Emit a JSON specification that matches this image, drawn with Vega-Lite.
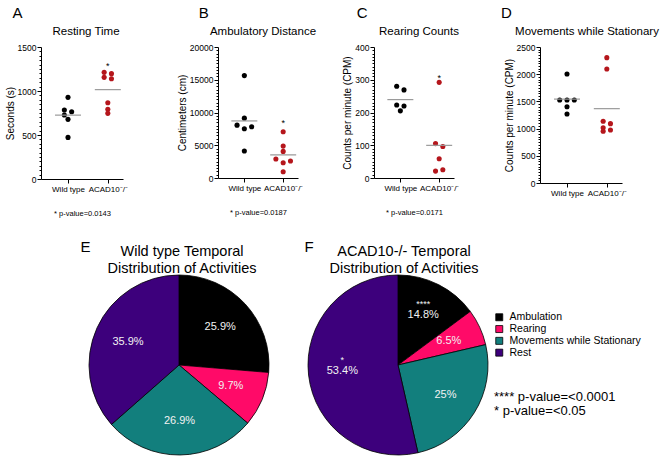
{
  "$schema": "https://vega.github.io/schema/vega-lite/v6.json",
  "config": {
    "font": "Liberation Sans",
    "view": {"stroke": null},
    "axis": {"grid": false, "domainColor": "#000", "tickColor": "#000", "labelColor": "#000", "titleColor": "#000", "titleFontWeight": "normal", "domainWidth": 1, "tickWidth": 1},
    "title": {"fontWeight": "normal", "color": "#000", "fontSize": 11.5, "offset": 6}
  },
  "datasets": {
    "sc": [
      {"p":"A","g":"Wild type","lane":"C","v":928},
      {"p":"A","g":"Wild type","lane":"L","v":784},
      {"p":"A","g":"Wild type","lane":"R","v":765},
      {"p":"A","g":"Wild type","lane":"L","v":727},
      {"p":"A","g":"Wild type","lane":"C","v":678},
      {"p":"A","g":"Wild type","lane":"C","v":473},
      {"p":"A","g":"ACAD10⁻/⁻","lane":"L","v":1212},
      {"p":"A","g":"ACAD10⁻/⁻","lane":"R","v":1197},
      {"p":"A","g":"ACAD10⁻/⁻","lane":"L","v":1155},
      {"p":"A","g":"ACAD10⁻/⁻","lane":"R","v":1140},
      {"p":"A","g":"ACAD10⁻/⁻","lane":"C","v":867},
      {"p":"A","g":"ACAD10⁻/⁻","lane":"C","v":792},
      {"p":"A","g":"ACAD10⁻/⁻","lane":"C","v":746},
      {"p":"B","g":"Wild type","lane":"C","v":15635},
      {"p":"B","g":"Wild type","lane":"C","v":9137},
      {"p":"B","g":"Wild type","lane":"L2","v":8071},
      {"p":"B","g":"Wild type","lane":"R2","v":7817},
      {"p":"B","g":"Wild type","lane":"C","v":7513},
      {"p":"B","g":"Wild type","lane":"C","v":4112},
      {"p":"B","g":"ACAD10⁻/⁻","lane":"C","v":7056},
      {"p":"B","g":"ACAD10⁻/⁻","lane":"C","v":4873},
      {"p":"B","g":"ACAD10⁻/⁻","lane":"C","v":4061},
      {"p":"B","g":"ACAD10⁻/⁻","lane":"L2","v":2893},
      {"p":"B","g":"ACAD10⁻/⁻","lane":"R2","v":2589},
      {"p":"B","g":"ACAD10⁻/⁻","lane":"C","v":2335},
      {"p":"B","g":"ACAD10⁻/⁻","lane":"C","v":964},
      {"p":"C","g":"Wild type","lane":"L","v":280},
      {"p":"C","g":"Wild type","lane":"R","v":269},
      {"p":"C","g":"Wild type","lane":"L","v":223},
      {"p":"C","g":"Wild type","lane":"R","v":220},
      {"p":"C","g":"Wild type","lane":"C","v":205},
      {"p":"C","g":"ACAD10⁻/⁻","lane":"C","v":292},
      {"p":"C","g":"ACAD10⁻/⁻","lane":"L","v":105},
      {"p":"C","g":"ACAD10⁻/⁻","lane":"R","v":96},
      {"p":"C","g":"ACAD10⁻/⁻","lane":"C","v":59},
      {"p":"C","g":"ACAD10⁻/⁻","lane":"L","v":21},
      {"p":"C","g":"ACAD10⁻/⁻","lane":"R","v":25},
      {"p":"D","g":"Wild type","lane":"C","v":2004},
      {"p":"D","g":"Wild type","lane":"L2","v":1526},
      {"p":"D","g":"Wild type","lane":"C","v":1526},
      {"p":"D","g":"Wild type","lane":"R2","v":1526},
      {"p":"D","g":"Wild type","lane":"C","v":1403},
      {"p":"D","g":"Wild type","lane":"C","v":1268},
      {"p":"D","g":"ACAD10⁻/⁻","lane":"C","v":2304},
      {"p":"D","g":"ACAD10⁻/⁻","lane":"C","v":2096},
      {"p":"D","g":"ACAD10⁻/⁻","lane":"L","v":1134},
      {"p":"D","g":"ACAD10⁻/⁻","lane":"R","v":1091},
      {"p":"D","g":"ACAD10⁻/⁻","lane":"L","v":1017},
      {"p":"D","g":"ACAD10⁻/⁻","lane":"L","v":950},
      {"p":"D","g":"ACAD10⁻/⁻","lane":"R","v":974}
    ],
    "st": [
      {"p":"A","g":"ACAD10⁻/⁻","v":1311},
      {"p":"B","g":"ACAD10⁻/⁻","v":8832},
      {"p":"C","g":"ACAD10⁻/⁻","v":313}
    ],
    "pie": [
      {"geno":"WT","act":"Ambulation","k":1,"pct":25.9,"lbl":"25.9%","star":""},
      {"geno":"WT","act":"Rearing","k":2,"pct":9.7,"lbl":"9.7%","star":""},
      {"geno":"WT","act":"Movements while Stationary","k":3,"pct":26.9,"lbl":"26.9%","star":""},
      {"geno":"WT","act":"Rest","k":4,"pct":35.9,"lbl":"35.9%","star":""},
      {"geno":"KO","act":"Ambulation","k":1,"pct":14.8,"lbl":"14.8%","star":"****"},
      {"geno":"KO","act":"Rearing","k":2,"pct":6.5,"lbl":"6.5%","star":""},
      {"geno":"KO","act":"Movements while Stationary","k":3,"pct":25,"lbl":"25%","star":""},
      {"geno":"KO","act":"Rest","k":4,"pct":53.4,"lbl":"53.4%","star":"*"}
    ]
  },
  "resolve": {"scale": {"color": "independent", "theta": "independent"}, "legend": {"color": "independent"}},
  "spacing": 22,
  "vconcat": [
    {
      "spacing": 49,
      "hconcat": [
        {
          "title": {"text": "A", "anchor": "start", "frame": "bounds", "fontSize": 15, "dx": 7.5, "offset": 5},
          "vconcat": [
            {
              "width": 82, "height": 132,
              "title": {"text": "Resting Time", "dx": 4},
              "data": {"name": "sc"},
              "transform": [{"filter": "datum.p === 'A'"}],
              "encoding": {
                "x": {"field": "g", "type": "nominal", "sort": ["Wild type", "ACAD10⁻/⁻"], "scale": {"type": "point", "domain": ["Wild type", "ACAD10⁻/⁻"], "padding": 0.53, "align": 0.64}, "axis": {"title": "* p-value=0.0143", "labelAngle": 0, "labelFontSize": 8, "tickSize": 4, "labelPadding": 2, "titleFontSize": 7.5, "titlePadding": 16}},
                "y": {"field": "v", "type": "quantitative", "scale": {"domain": [0, 1500], "nice": false}, "axis": {"title": "Seconds (s)", "format": "d", "values": [0,50,100,150,200,250,300,350,400,450,500,550,600,650,700,750,800,850,900,950,1000,1050,1100,1150,1200,1250,1300,1350,1400,1450,1500], "labelExpr": "datum.value % 500 === 0 ? datum.label : ''", "tickSize": {"condition": {"test": "datum.value % 500 === 0", "value": 4}, "value": 2}, "labelFontSize": 8.5, "titleFontSize": 10, "titlePadding": 2, "labelPadding": 1}}
              },
              "layer": [
                {"mark": {"type": "point", "filled": true, "size": 26, "opacity": 1},
                 "encoding": {
                   "xOffset": {"field": "lane", "type": "nominal", "scale": {"type": "point", "domain": ["L2","L","C","R","R2"], "range": [-7.3, 7.3], "padding": 0}},
                   "color": {"condition": {"test": "datum.g === 'Wild type'", "value": "#000000"}, "value": "#b5161c"}
                 }},
                {"mark": {"type": "tick", "orient": "horizontal", "size": 26, "thickness": 1.2, "color": "#9a9a9a"},
                 "encoding": {"y": {"aggregate": "mean", "field": "v", "type": "quantitative"}}},
                {"data": {"name": "st"}, "transform": [{"filter": "datum.p === 'A'"}],
                 "mark": {"type": "text", "text": "*", "fontSize": 9, "baseline": "middle", "dy": 2.5, "color": "#000"}}
              ]
            }
          ]
        },
        {
          "spacing": 25,
          "hconcat": [
            {
              "title": {"text": "B", "anchor": "start", "frame": "bounds", "fontSize": 15, "dx": 21.5, "offset": 5},
              "vconcat": [
                {
                  "width": 80, "height": 131,
                  "title": {"text": "Ambulatory Distance", "dx": 5},
                  "data": {"name": "sc"},
                  "transform": [{"filter": "datum.p === 'B'"}],
                  "encoding": {
                    "x": {"field": "g", "type": "nominal", "sort": ["Wild type", "ACAD10⁻/⁻"], "scale": {"type": "point", "domain": ["Wild type", "ACAD10⁻/⁻"], "padding": 0.53, "align": 0.64}, "axis": {"title": "* p-value=0.0187", "labelAngle": 0, "labelFontSize": 8, "tickSize": 4, "labelPadding": 2, "titleFontSize": 7.5, "titlePadding": 16}},
                    "y": {"field": "v", "type": "quantitative", "scale": {"domain": [0, 20000], "nice": false}, "axis": {"title": "Centimeters (cm)", "format": "d", "values": [0,500,1000,1500,2000,2500,3000,3500,4000,4500,5000,5500,6000,6500,7000,7500,8000,8500,9000,9500,10000,10500,11000,11500,12000,12500,13000,13500,14000,14500,15000,15500,16000,16500,17000,17500,18000,18500,19000,19500,20000], "labelExpr": "datum.value % 5000 === 0 ? datum.label : ''", "tickSize": {"condition": {"test": "datum.value % 5000 === 0", "value": 4}, "value": 2}, "labelFontSize": 8.5, "titleFontSize": 10, "titlePadding": 2, "labelPadding": 1}}
                  },
                  "layer": [
                    {"mark": {"type": "point", "filled": true, "size": 26, "opacity": 1},
                     "encoding": {
                       "xOffset": {"field": "lane", "type": "nominal", "scale": {"type": "point", "domain": ["L2","L","C","R","R2"], "range": [-7.3, 7.3], "padding": 0}},
                       "color": {"condition": {"test": "datum.g === 'Wild type'", "value": "#000000"}, "value": "#b5161c"}
                     }},
                    {"mark": {"type": "tick", "orient": "horizontal", "size": 26, "thickness": 1.2, "color": "#9a9a9a"},
                     "encoding": {"y": {"aggregate": "mean", "field": "v", "type": "quantitative"}}},
                    {"data": {"name": "st"}, "transform": [{"filter": "datum.p === 'B'"}],
                     "mark": {"type": "text", "text": "*", "fontSize": 9, "baseline": "middle", "dy": 2.5, "color": "#000"}}
                  ]
                }
              ]
            },
            {
              "spacing": 42,
              "hconcat": [
                {
                  "title": {"text": "C", "anchor": "start", "frame": "bounds", "fontSize": 15, "dx": 14, "offset": 5},
                  "vconcat": [
                    {
                      "width": 80, "height": 131,
                      "title": {"text": "Rearing Counts", "dx": 5},
                      "data": {"name": "sc"},
                      "transform": [{"filter": "datum.p === 'C'"}],
                      "encoding": {
                        "x": {"field": "g", "type": "nominal", "sort": ["Wild type", "ACAD10⁻/⁻"], "scale": {"type": "point", "domain": ["Wild type", "ACAD10⁻/⁻"], "padding": 0.53, "align": 0.64}, "axis": {"title": "* p-value=0.0171", "labelAngle": 0, "labelFontSize": 8, "tickSize": 4, "labelPadding": 2, "titleFontSize": 7.5, "titlePadding": 16}},
                        "y": {"field": "v", "type": "quantitative", "scale": {"domain": [0, 400], "nice": false}, "axis": {"title": "Counts per minute (CPM)", "format": "d", "values": [0,10,20,30,40,50,60,70,80,90,100,110,120,130,140,150,160,170,180,190,200,210,220,230,240,250,260,270,280,290,300,310,320,330,340,350,360,370,380,390,400], "labelExpr": "datum.value % 100 === 0 ? datum.label : ''", "tickSize": {"condition": {"test": "datum.value % 100 === 0", "value": 4}, "value": 2}, "labelFontSize": 8.5, "titleFontSize": 10, "titlePadding": 2, "labelPadding": 1}}
                      },
                      "layer": [
                        {"mark": {"type": "point", "filled": true, "size": 26, "opacity": 1},
                         "encoding": {
                           "xOffset": {"field": "lane", "type": "nominal", "scale": {"type": "point", "domain": ["L2","L","C","R","R2"], "range": [-7.3, 7.3], "padding": 0}},
                           "color": {"condition": {"test": "datum.g === 'Wild type'", "value": "#000000"}, "value": "#b5161c"}
                         }},
                        {"mark": {"type": "tick", "orient": "horizontal", "size": 26, "thickness": 1.2, "color": "#9a9a9a"},
                         "encoding": {"y": {"aggregate": "mean", "field": "v", "type": "quantitative"}}},
                        {"data": {"name": "st"}, "transform": [{"filter": "datum.p === 'C'"}],
                         "mark": {"type": "text", "text": "*", "fontSize": 9, "baseline": "middle", "dy": 2.5, "color": "#000"}}
                      ]
                    }
                  ]
                },
                {
                  "title": {"text": "D", "anchor": "start", "frame": "bounds", "fontSize": 15, "dx": -3, "offset": 5},
                  "vconcat": [
                    {
                      "width": 82, "height": 136,
                      "title": {"text": "Movements while Stationary", "dx": 6},
                      "data": {"name": "sc"},
                      "transform": [{"filter": "datum.p === 'D'"}],
                      "encoding": {
                        "x": {"field": "g", "type": "nominal", "sort": ["Wild type", "ACAD10⁻/⁻"], "scale": {"type": "point", "domain": ["Wild type", "ACAD10⁻/⁻"], "padding": 0.53, "align": 0.64}, "axis": {"title": null, "labelAngle": 0, "labelFontSize": 8, "tickSize": 4, "labelPadding": 2}},
                        "y": {"field": "v", "type": "quantitative", "scale": {"domain": [0, 2500], "nice": false}, "axis": {"title": "Counts per minute (CPM)", "format": "d", "values": [0,50,100,150,200,250,300,350,400,450,500,550,600,650,700,750,800,850,900,950,1000,1050,1100,1150,1200,1250,1300,1350,1400,1450,1500,1550,1600,1650,1700,1750,1800,1850,1900,1950,2000,2050,2100,2150,2200,2250,2300,2350,2400,2450,2500], "labelExpr": "datum.value % 500 === 0 ? datum.label : ''", "tickSize": {"condition": {"test": "datum.value % 500 === 0", "value": 4}, "value": 2}, "labelFontSize": 8.5, "titleFontSize": 10, "titlePadding": 2, "labelPadding": 1}}
                      },
                      "layer": [
                        {"mark": {"type": "point", "filled": true, "size": 26, "opacity": 1},
                         "encoding": {
                           "xOffset": {"field": "lane", "type": "nominal", "scale": {"type": "point", "domain": ["L2","L","C","R","R2"], "range": [-7.3, 7.3], "padding": 0}},
                           "color": {"condition": {"test": "datum.g === 'Wild type'", "value": "#000000"}, "value": "#b5161c"}
                         }},
                        {"mark": {"type": "tick", "orient": "horizontal", "size": 26, "thickness": 1.2, "color": "#9a9a9a"},
                         "encoding": {"y": {"aggregate": "mean", "field": "v", "type": "quantitative"}}}
                      ]
                    }
                  ]
                }
              ]
            }
          ]
        }
      ]
    },
    {
      "spacing": 33,
      "resolve": {"scale": {"color": "independent", "theta": "independent"}, "legend": {"color": "independent"}},
      "hconcat": [
        {"width": 6, "height": 10, "data": {"values": []}, "mark": "point"},
        {
          "title": {"text": "E", "anchor": "start", "frame": "bounds", "fontSize": 15, "dx": -7, "offset": -11},
          "vconcat": [
            {
              "width": 180, "height": 180,
              "title": {"text": ["Wild type Temporal", "Distribution of Activities"], "fontSize": 14.5, "lineHeight": 17, "offset": -3, "dx": 3},
              "data": {"name": "pie"},
              "transform": [{"filter": "datum.geno === 'WT'"}],
              "encoding": {
                "theta": {"field": "pct", "type": "quantitative", "stack": "normalize"},
                "order": {"field": "k", "type": "quantitative"},
                "color": {"field": "act", "type": "nominal", "scale": {"domain": ["Ambulation", "Rearing", "Movements while Stationary", "Rest"], "range": ["#000000", "#ff0a68", "#127f7d", "#3d007c"]}, "legend": null}
              },
              "layer": [
                {"mark": {"type": "arc", "outerRadius": 90, "stroke": "#000", "strokeWidth": 0.8}},
                {"mark": {"type": "text", "radius": 56},
                 "encoding": {"text": {"field": "lbl"}, "color": {"value": "#f2f2f2"}, "fontSize": {"condition": {"test": "datum.pct < 8", "value": 9}, "value": 11.5}}},
                {"mark": {"type": "text", "radius": 56, "dy": -11, "fontSize": 9},
                 "encoding": {"text": {"field": "star"}, "color": {"value": "#f2f2f2"}}}
              ]
            }
          ]
        },
        {
          "title": {"text": "F", "anchor": "start", "frame": "bounds", "fontSize": 15, "dx": -2, "offset": -11},
          "vconcat": [
            {
              "width": 180, "height": 180,
              "title": {"text": ["ACAD10-/- Temporal", "Distribution of Activities"], "fontSize": 14.5, "lineHeight": 17, "offset": -3, "dx": 6},
              "data": {"name": "pie"},
              "transform": [{"filter": "datum.geno === 'KO'"}],
              "encoding": {
                "theta": {"field": "pct", "type": "quantitative", "stack": "normalize"},
                "order": {"field": "k", "type": "quantitative"},
                "color": {"field": "act", "type": "nominal", "scale": {"domain": ["Ambulation", "Rearing", "Movements while Stationary", "Rest"], "range": ["#000000", "#ff0a68", "#127f7d", "#3d007c"]},
                  "legend": {"orient": "none", "legendX": 186, "legendY": 37, "title": ["**** p-value=<0.0001", "* p-value=<0.05"], "titleOrient": "bottom", "titleAnchor": "start", "titleFontSize": 13, "titleFontWeight": "normal", "titleLineHeight": 14, "titlePadding": 33, "titleColor": "#000", "titleLimit": 300, "labelFontSize": 10.5, "labelColor": "#000", "labelLimit": 300, "symbolType": "square", "symbolSize": 49, "symbolStrokeColor": "#000", "symbolStrokeWidth": 0.8, "symbolOpacity": 1, "rowPadding": 0.8, "labelOffset": 5, "padding": 0}}
              },
              "layer": [
                {"mark": {"type": "arc", "outerRadius": 90, "stroke": "#000", "strokeWidth": 0.8}},
                {"mark": {"type": "text", "radius": 56},
                 "encoding": {"text": {"field": "lbl"}, "color": {"value": "#f2f2f2"}, "fontSize": {"condition": {"test": "datum.pct < 8", "value": 9}, "value": 11.5}}},
                {"mark": {"type": "text", "radius": 56, "dy": -11, "fontSize": 9},
                 "encoding": {"text": {"field": "star"}, "color": {"value": "#f2f2f2"}}}
              ]
            }
          ]
        }
      ]
    }
  ]
}
